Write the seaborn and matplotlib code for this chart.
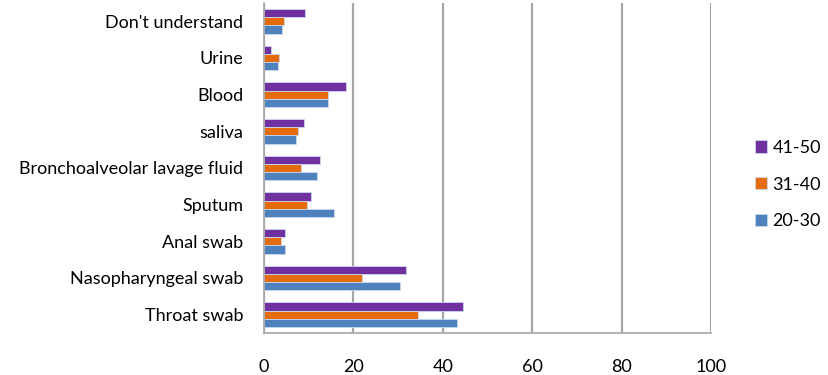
import numpy as np
import pandas as pd
import matplotlib
matplotlib.use('Agg')
import matplotlib.pyplot as plt
import seaborn as sns
from matplotlib.ticker import FixedLocator

categories = ["Don't understand", 'Urine', 'Blood', 'saliva',
              'Bronchoalveolar lavage fluid', 'Sputum', 'Anal swab',
              'Nasopharyngeal swab', 'Throat swab']
age_41_50 = [9.2, 1.6, 18.4, 9.0, 12.6, 10.5, 4.8, 31.7, 44.4]
age_31_40 = [4.5, 3.4, 14.2, 7.5, 8.3, 9.7, 3.9, 22.0, 34.4]
age_20_30 = [4.0, 3.1, 14.4, 7.2, 11.9, 15.7, 4.7, 30.5, 43.1]
groups = ['41-50', '31-40', '20-30']
colors = ['#7030A0', '#E46C0A', '#4F81BD']

df = pd.DataFrame({'sample': categories * 3,
                   'value': age_41_50 + age_31_40 + age_20_30,
                   'age': [g for g in groups for _ in categories]})

sns.set_style('white')
plt.rcParams['font.family'] = ['Lato', 'DejaVu Sans']
plt.rcParams['text.color'] = 'black'
plt.rcParams['xtick.color'] = 'black'
plt.rcParams['ytick.color'] = 'black'

fig, ax = plt.subplots(figsize=(8.29, 3.75), dpi=100)
fig.subplots_adjust(left=0.3185, right=0.8577, top=0.992, bottom=0.112)

sns.barplot(data=df, y='sample', x='value', hue='age', hue_order=groups,
            order=categories, palette=colors, orient='h', width=0.68,
            edgecolor='#c8d8f0', linewidth=0.6, saturation=1, ax=ax)

ax.set_xlim(0, 100)
ax.set_ylim(len(categories) - 0.5, -0.5)
ax.set_xticks([0, 20, 40, 60, 80, 100])
ax.xaxis.grid(True, color='#a6a6a6', linewidth=1.6)
ax.set_axisbelow(True)
ax.set_xlabel('')
ax.set_ylabel('')

for side in ['top', 'right']:
    ax.spines[side].set_visible(False)
ax.spines['left'].set_color('#a6a6a6')
ax.spines['bottom'].set_color('#a6a6a6')
ax.spines['left'].set_linewidth(1.2)
ax.spines['bottom'].set_linewidth(1.2)

ax.tick_params(axis='y', which='major', length=0, labelsize=13, pad=15)
ax.yaxis.set_minor_locator(FixedLocator(np.arange(-0.5, len(categories), 1)))
ax.tick_params(axis='y', which='minor', length=5, color='#a6a6a6', width=1.2)
ax.tick_params(axis='x', length=5, color='#a6a6a6', labelcolor='black',
               width=1.2, labelsize=13, pad=14)

handles, labels = ax.get_legend_handles_labels()
ax.legend(handles, labels, loc='center left', bbox_to_anchor=(1.07, 0.45),
          frameon=False, fontsize=13, handlelength=0.68, handleheight=0.68,
          handletextpad=0.3, labelspacing=1.15, borderpad=0.2)

fig.savefig('out.png', dpi=100)
